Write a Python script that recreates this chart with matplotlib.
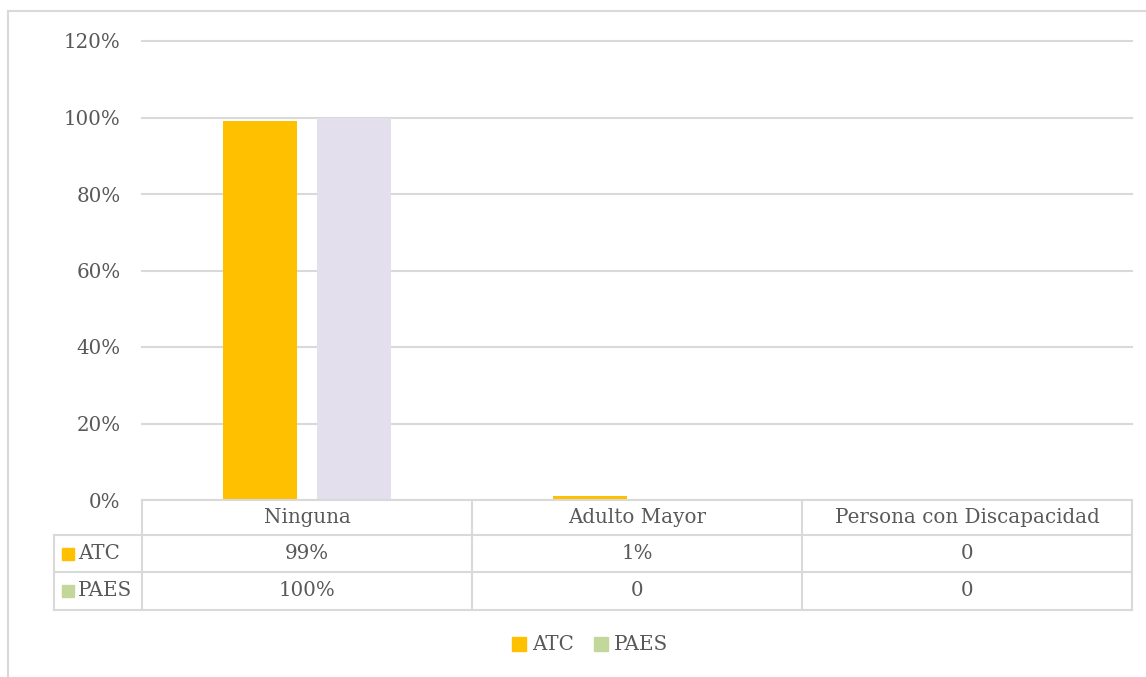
import matplotlib.pyplot as plt
import numpy as np
from matplotlib.patches import Patch, Rectangle

# data
categories = ['Ninguna', 'Adulto Mayor', 'Persona con Discapacidad']
series = ['ATC', 'PAES']
atc = [0.99, 0.01, 0.0]
paes = [1.00, 0.0, 0.0]
yticks = [0, 0.2, 0.4, 0.6, 0.8, 1.0, 1.2]

bar_colors = ['#FFC000', '#E4DFEC']
key_colors = ['#FFC000', '#C4D79B']
text_col = '#595959'
grid_col = '#D9D9D9'

plt.rcParams['font.family'] = ['DejaVu Serif']
fs = 14.3

W, H = 1146, 677
fig = plt.figure(figsize=(W / 100, H / 100), dpi=100)


def fx(px):
    return px / W


def fy(py):
    return 1 - py / H


# chart frame
fig.add_artist(plt.Line2D([fx(8), fx(8)], [fy(11), 0], color=grid_col, lw=1.5))
fig.add_artist(plt.Line2D([fx(8), 1], [fy(11), fy(11)], color=grid_col, lw=1.5))

# plot area
ax = fig.add_axes([fx(142), fy(500), fx(1132) - fx(142), fy(41) - fy(500)])
x = np.arange(len(categories))
w = 0.224
gap = 0.06
ax.bar(x - (w + gap) / 2, atc, w, color=bar_colors[0], zorder=3)
ax.bar(x + (w + gap) / 2, paes, w, color=bar_colors[1], zorder=3)
ax.set_xlim(-0.5, len(categories) - 0.5)
ax.set_ylim(0, 1.2)
ax.set_yticks(yticks)
ax.set_yticklabels([f'{t:.0%}' for t in yticks], color=text_col, fontsize=fs)
ax.tick_params(axis='y', length=0, pad=15.5)
ax.tick_params(axis='x', length=0, labelbottom=False)
ax.grid(axis='y', color=grid_col, lw=1.5, zorder=0)
for gl in ax.get_ygridlines():
    gl.set_clip_on(False)
for s in ax.spines.values():
    s.set_visible(False)
ax.axhline(0, color=grid_col, lw=1.5, zorder=4)

# data table below the plot
tab = fig.add_axes([fx(54), fy(610), fx(1132) - fx(54), fy(500) - fy(610)])
tab.set_xlim(54, 1132)
tab.set_ylim(610, 500)
tab.axis('off')
col_edges = [142, 472, 802, 1132]
row_edges = [500, 535, 572, 610]
lc = dict(color=grid_col, lw=1.5, clip_on=False)
for xe in col_edges:
    tab.plot([xe, xe], [500, 610], **lc)
tab.plot([54, 54], [535, 610], **lc)
for ye in row_edges[1:]:
    tab.plot([54, 1132], [ye, ye], **lc)

for i, cat in enumerate(categories):
    cx = (col_edges[i] + col_edges[i + 1]) / 2
    tab.text(cx, (row_edges[0] + row_edges[1]) / 2, cat, ha='center', va='center',
             color=text_col, fontsize=fs)


def fmt(v):
    return '0' if v == 0 else f'{v:.0%}'


for r, (name, vals) in enumerate(zip(series, [atc, paes])):
    cy = (row_edges[r + 1] + row_edges[r + 2]) / 2
    tab.add_patch(Rectangle((62, cy - 6), 12, 12, color=key_colors[r]))
    tab.text(78, cy, name, ha='left', va='center', color=text_col, fontsize=fs)
    for i, v in enumerate(vals):
        cx = (col_edges[i] + col_edges[i + 1]) / 2
        tab.text(cx, cy, fmt(v), ha='center', va='center', color=text_col, fontsize=fs)

# legend
handles = [Patch(color=c, label=s) for c, s in zip(key_colors, series)]
fig.legend(handles=handles, loc='center', bbox_to_anchor=(fx(590), fy(645)), ncol=2,
           frameon=False, handlelength=0.7, handleheight=0.7, handletextpad=0.3,
           columnspacing=1.0, labelcolor=text_col, fontsize=fs)

fig.savefig('out.png', dpi=100)
